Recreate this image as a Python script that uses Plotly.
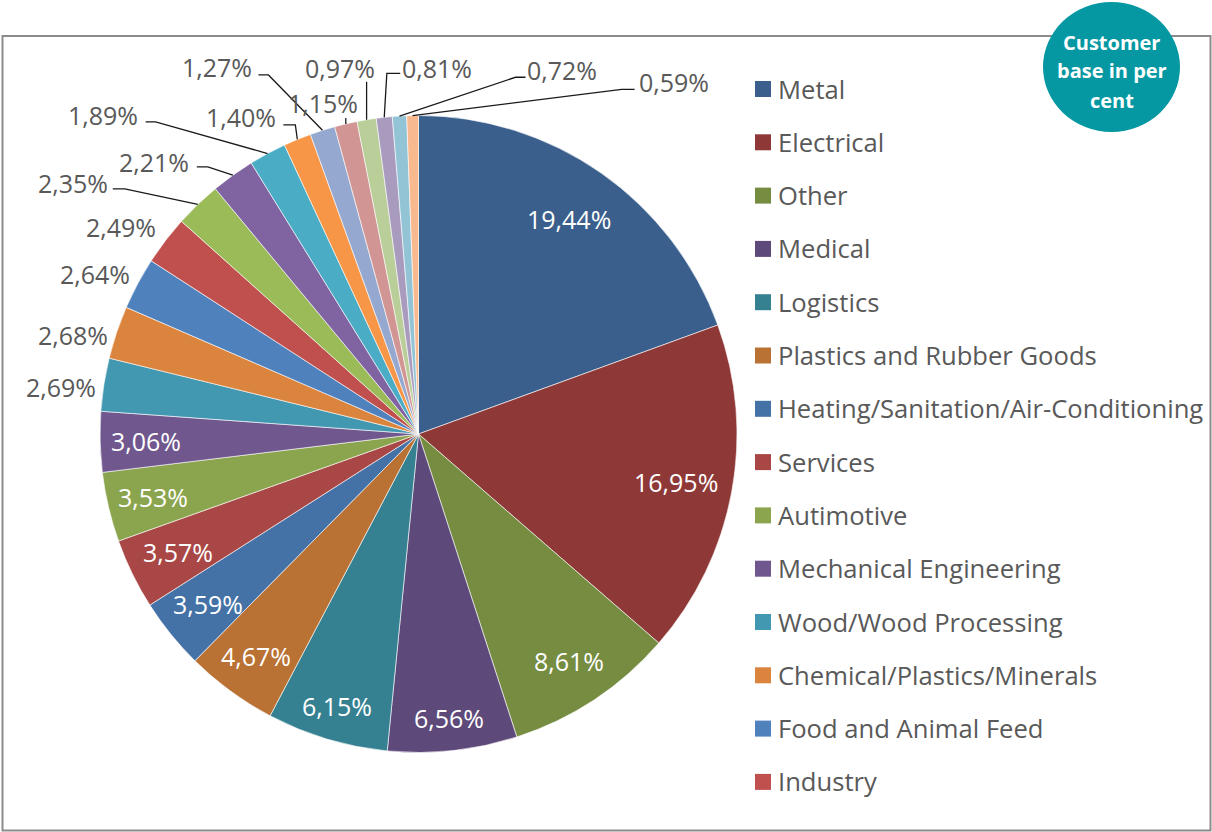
import math
import plotly.graph_objects as go

# ---------------- data ----------------
sectors = [
    "Metal", "Electrical", "Other", "Medical", "Logistics",
    "Plastics and Rubber Goods", "Heating/Sanitation/Air-Conditioning",
    "Services", "Autimotive", "Mechanical Engineering",
    "Wood/Wood Processing", "Chemical/Plastics/Minerals",
    "Food and Animal Feed", "Industry",
    "Sector 15", "Sector 16", "Sector 17", "Sector 18", "Sector 19",
    "Sector 20", "Sector 21", "Sector 22", "Sector 23", "Sector 24",
]
shares = [19.44, 16.95, 8.61, 6.56, 6.15, 4.67, 3.59, 3.57, 3.53, 3.06,
          2.69, 2.68, 2.64, 2.49, 2.35, 2.21, 1.89, 1.40, 1.27, 1.15,
          0.97, 0.81, 0.72, 0.59]
legend_count = 14
title_lines = ["Customer", "base in per", "cent"]

# ---------------- style ----------------
colors = [
    "#3a5f8c", "#8e3937", "#758c41", "#5e4a7a", "#358191", "#b97233",
    "#4572a6", "#a94746", "#8ba54e", "#70578e", "#4298b0", "#db843d",
    "#4f81bd", "#c0504d", "#9bbb59", "#8064a2", "#4bacc6", "#f79646",
    "#95a9d0", "#d19593", "#b9ce98", "#a99bbe", "#93c4d6", "#f8b98f",
]
W, H = 1212, 832
CX, CY, R = 418.5, 434.0, 318.5
FONT = "Segoe UI, Open Sans, Noto Sans, sans-serif"
GRAY = "#595959"
LBL_SIZE = 25
LEG_SIZE = 25.6

# radial position (fraction of R) of labels drawn inside the slices
inside_radius = [0.825, 0.823, 0.854, 0.896, 0.89, 0.864, 0.848, 0.842, 0.857, 0.857]
# outside labels: label-centre offset (px) from the slice's outer edge point,
# and leader-line points (px offsets from the same edge point)
outside_style = {
    10: ((-43, 2), None),
    11: ((-44, 3), None),
    12: ((-43, -10), None),
    13: ((-45, -13), None),
    14: ((-125, -21), [(-73, -15.6), (-85, -15.6)]),
    15: ((-79, -13), [(-25, -8.4), (-36, -8.4)]),
    16: ((-165, -39), [(-112, -31.6), (-122, -31.6)]),
    17: ((-56, -22), [(-2, -14.5), (-14, -14.5)]),
    18: ((-105, -63), [(-54, -55.4), (-64, -55.4)]),
    19: ((-23, -21), [(0, -6)]),
    20: ((-27, -52), [(0, -38)]),
    21: ((53, -49), [(2.6, -44), (16, -44)]),
    22: ((163, -46), [(116, -38.8), (126, -38.8)]),
    23: ((261, -34), [(209, -26.2), (222, -26.2)]),
}


def px(x):
    return x / W


def py(y):
    return 1 - y / H


def fmt(v):
    return f"{v:.2f}".replace(".", ",") + "%"


total = sum(shares)
mids = []
cum = 0.0
for v in shares:
    mids.append((cum + v / 2) / total * 2 * math.pi)
    cum += v


def polar(r, a):
    return CX + r * math.sin(a), CY - r * math.cos(a)


fig = go.Figure(
    go.Pie(
        labels=sectors,
        values=shares,
        sort=False,
        direction="clockwise",
        rotation=0,
        marker=dict(colors=colors, line=dict(color="rgba(255,255,255,0.6)", width=1)),
        textinfo="none",
        hovertemplate="%{label}: %{value:.2f}%<extra></extra>",
        domain=dict(x=[px(CX - R), px(CX + R)], y=[py(CY + R), py(CY - R)]),
        showlegend=False,
    )
)

annotations = []
shapes = []

# chart border
shapes.append(dict(type="rect", xref="paper", yref="paper",
                   x0=px(2.5), x1=px(1210.5), y0=py(830.5), y1=py(36),
                   line=dict(color="#8c8c8c", width=2), fillcolor="rgba(0,0,0,0)",
                   layer="below"))

# data labels
for i, v in enumerate(shares):
    if i < len(inside_radius):
        x, y = polar(inside_radius[i] * R, mids[i])
        annotations.append(dict(x=px(x), y=py(y), xref="paper", yref="paper",
                                text=fmt(v), showarrow=False,
                                xanchor="center", yanchor="middle",
                                font=dict(family=FONT, size=LBL_SIZE, color="white")))
    else:
        ex, ey = polar(R, mids[i])
        (dx, dy), leader = outside_style[i]
        annotations.append(dict(x=px(ex + dx), y=py(ey + dy), xref="paper", yref="paper",
                                text=fmt(v), showarrow=False,
                                xanchor="center", yanchor="middle",
                                font=dict(family=FONT, size=LBL_SIZE, color=GRAY)))
        if leader:
            path = f"M {px(ex)} {py(ey)}"
            for (lx, ly) in leader:
                path += f" L {px(ex + lx)} {py(ey + ly)}"
            shapes.append(dict(type="path", xref="paper", yref="paper", path=path,
                               line=dict(color="#1a1a1a", width=1.3)))

# legend (first entries only, as in the original)
LEG_X, LEG_Y0, LEG_DY = 755, 89, 53.3
for i in range(legend_count):
    yc = LEG_Y0 + i * LEG_DY
    shapes.append(dict(type="rect", xref="paper", yref="paper",
                       x0=px(LEG_X), x1=px(LEG_X + 16), y0=py(yc + 8), y1=py(yc - 8),
                       fillcolor=colors[i], line=dict(width=0)))
    annotations.append(dict(x=px(LEG_X + 21), y=py(yc), xref="paper", yref="paper",
                            text=sectors[i], showarrow=False,
                            xanchor="left", yanchor="middle",
                            font=dict(family=FONT, size=LEG_SIZE, color=GRAY)))

# title badge
shapes.append(dict(type="circle", xref="paper", yref="paper",
                   x0=px(1043), x1=px(1180), y0=py(132), y1=py(2),
                   fillcolor="#0598a2", line=dict(width=0), layer="above"))
for k, line in enumerate(title_lines):
    annotations.append(dict(x=px(1111.5), y=py(42 + 29 * k), xref="paper", yref="paper",
                            text="<b>" + line + "</b>",
                            showarrow=False, xanchor="center", yanchor="middle",
                            font=dict(family=FONT, size=20, color="white")))

fig.update_layout(
    width=W, height=H, autosize=False,
    margin=dict(l=0, r=0, t=0, b=0),
    paper_bgcolor="white", plot_bgcolor="white",
    annotations=annotations, shapes=shapes,
    showlegend=False,
)

fig.write_html("out.html")
